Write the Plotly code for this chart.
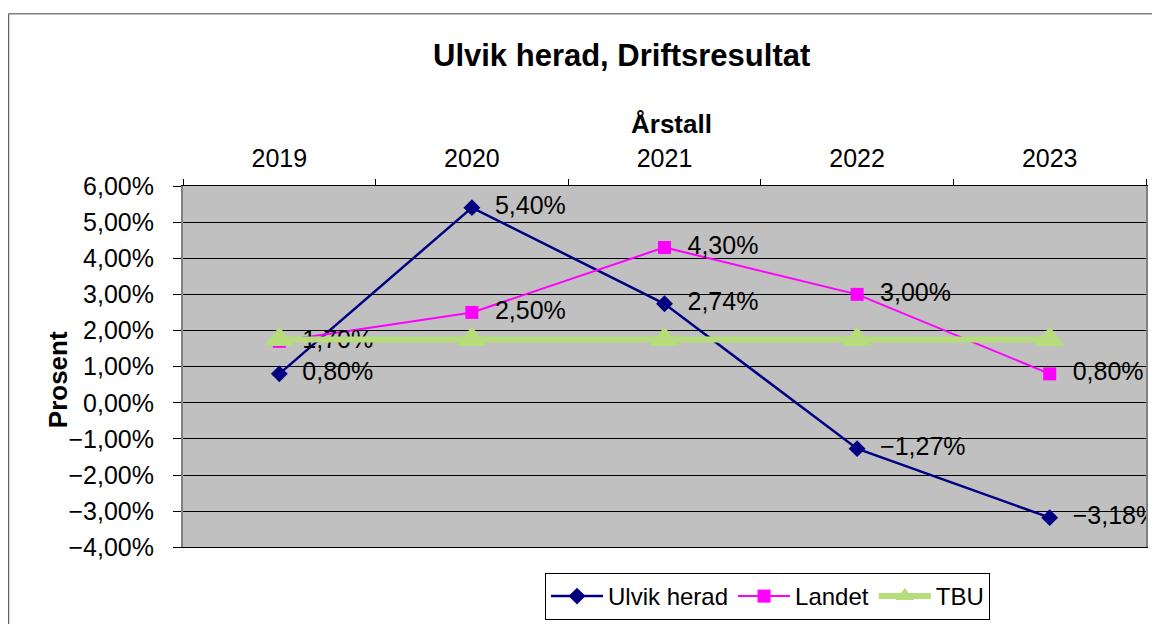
import plotly.graph_objects as go

# data
years = ["2019", "2020", "2021", "2022", "2023"]
ulvik = [0.80, 5.40, 2.74, -1.27, -3.18]
landet = [1.70, 2.50, 4.30, 3.00, 0.80]
tbu = [1.75, 1.75, 1.75, 1.75, 1.75]

y_ticks = [6, 5, 4, 3, 2, 1, 0, -1, -2, -3, -4]

FONT = "Liberation Sans, Arial, sans-serif"

# the page body adds an 8px margin, so the figure is a bit smaller
W, H = 1152, 616
L, T, R, B = 175, 178, 13, 75
PW, PH = W - L - R, H - T - B


def pct(v: float) -> str:
    s = f"{abs(v):.2f}".replace(".", ",") + "%"
    return ("\u2212" + s) if v < 0 else s


def px(x):  # screen pixel -> paper x
    return (x - 8 - L) / PW


def py(y):  # screen pixel -> paper y
    return (H - B - (y - 8)) / PH


fig = go.Figure()

fig.add_trace(go.Scatter(
    x=years, y=ulvik, name="Ulvik herad",
    mode="lines+markers+text",
    line=dict(color="#000080", width=2.5),
    marker=dict(symbol="diamond", size=13, color="#000080"),
    text=["  " + pct(v) for v in ulvik],
    textposition="middle right",
    textfont=dict(size=25, color="black", family=FONT),
))
fig.add_trace(go.Scatter(
    x=years, y=landet, name="Landet",
    mode="lines+markers+text",
    line=dict(color="#FF00FF", width=2),
    marker=dict(symbol="square", size=13, color="#FF00FF"),
    text=["  " + pct(v) for v in landet],
    textposition="middle right",
    textfont=dict(size=25, color="black", family=FONT),
))
fig.add_trace(go.Scatter(
    x=years, y=tbu, name="TBU",
    mode="lines+markers",
    line=dict(color="#B7DC7C", width=6),
    marker=dict(symbol="triangle-up", size=26, color="#B7DC7C"),
))

fig.update_layout(
    width=W, height=H,
    margin=dict(l=L, r=R, t=T, b=B),
    paper_bgcolor="white",
    plot_bgcolor="#C0C0C0",
    font=dict(family=FONT, size=25, color="black"),
    showlegend=True,
    legend=dict(
        orientation="h",
        xref="container", yref="container",
        x=(545 - 8) / W, xanchor="left",
        y=1 - (573 - 8) / H, yanchor="top",
        bordercolor="black", borderwidth=1,
        font=dict(size=24),
        itemwidth=52,
        tracegroupgap=0,
    ),
    annotations=[
        dict(text="<b>Ulvik herad, Driftsresultat</b>", xref="paper", yref="paper",
             x=px(622), y=py(55), xanchor="center", yanchor="middle",
             showarrow=False, font=dict(size=31)),
        dict(text="<b>Årstall</b>", xref="paper", yref="paper",
             x=px(672), y=py(124), xanchor="center", yanchor="middle",
             showarrow=False, font=dict(size=26)),
        dict(text="<b>Prosent</b>", xref="paper", yref="paper",
             x=px(58), y=py(381), xanchor="center", yanchor="middle",
             showarrow=False, textangle=-90, font=dict(size=26)),
    ],
    shapes=[
        dict(type="rect", xref="paper", yref="paper",
             x0=px(8.5), x1=px(1175), y0=py(640), y1=py(13),
             line=dict(color="#404040", width=1), layer="below"),
    ],
)

fig.update_xaxes(
    type="category", side="top",
    range=[-0.5, 4.5],
    showgrid=False,
    ticks="outside", tickson="boundaries", ticklen=6, tickcolor="black",
    ticklabelstandoff=8,
    showline=True, linecolor="black", linewidth=1, mirror=True,
    tickfont=dict(size=25),
)
fig.update_yaxes(
    range=[-4, 6],
    tickvals=y_ticks, ticktext=[pct(v) for v in y_ticks],
    showgrid=True, gridcolor="black", gridwidth=1,
    zeroline=False,
    ticks="outside", ticklen=8, tickcolor="black",
    ticklabelstandoff=14,
    showline=True, linecolor="#808080", linewidth=2, mirror=True,
    tickfont=dict(size=25),
)

fig.write_html("out.html")
